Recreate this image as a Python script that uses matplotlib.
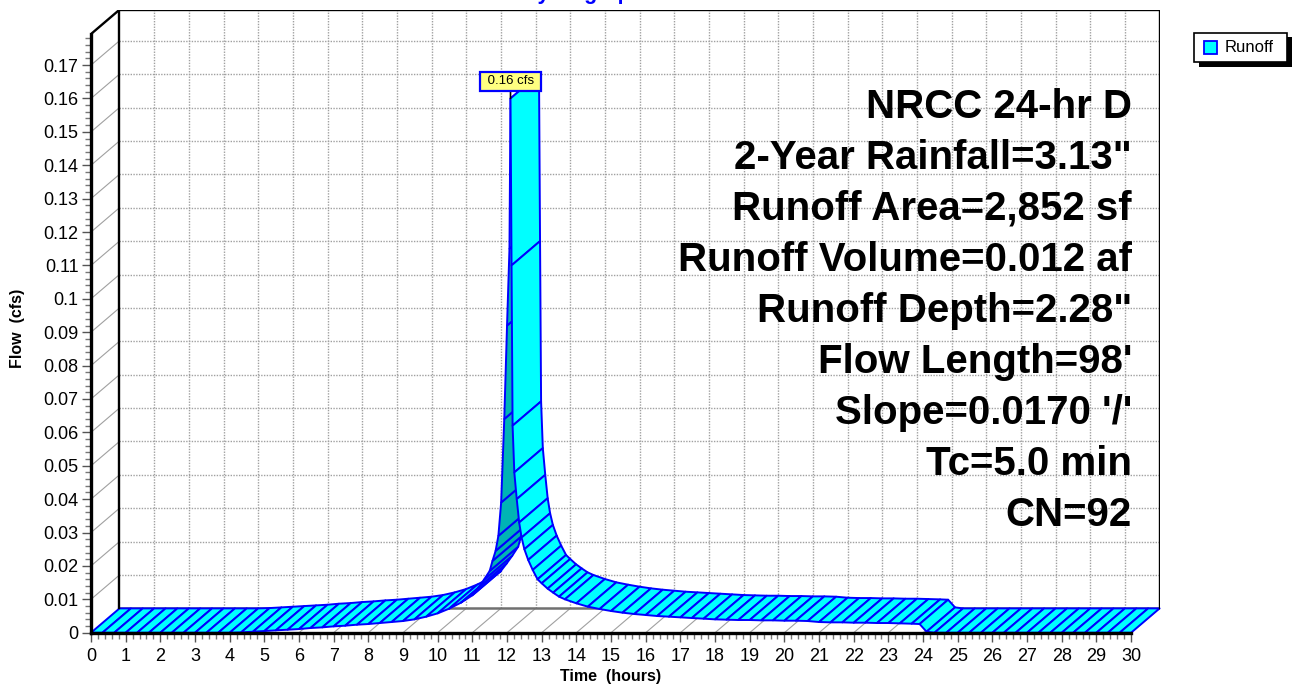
import matplotlib
matplotlib.use('Agg')
import matplotlib.pyplot as plt
from matplotlib.patches import Polygon, Rectangle

plt.rcParams['font.family'] = ['Liberation Sans', 'DejaVu Sans']

# ---------------- data ----------------
times = [0.00, 0.33, 0.67, 1.00, 1.33, 1.67, 2.00, 2.33, 2.67, 3.00, 3.33, 3.67,
         4.00, 4.33, 4.67, 5.00, 5.33, 5.67, 6.00, 6.33, 6.67, 7.00, 7.33, 7.67,
         8.00, 8.33, 8.67, 9.00, 9.33, 9.67, 10.00, 10.33, 10.67, 11.00, 11.17,
         11.33, 11.50, 11.58, 11.67, 11.75, 11.83, 11.92, 12.00, 12.07, 12.10,
         12.13, 12.16, 12.21, 12.28, 12.35, 12.42, 12.50, 12.61, 12.74, 12.88,
         13.00, 13.17, 13.33, 13.50, 13.67, 14.00, 14.33, 14.67, 15.00, 15.33,
         15.67, 16.00, 16.33, 16.67, 17.00, 17.33, 17.67, 18.00, 18.33, 18.67,
         19.00, 19.33, 19.67, 20.00, 20.33, 20.67, 21.00, 21.33, 21.67, 22.00,
         22.33, 22.67, 23.00, 23.33, 23.67, 23.90, 24.10, 24.33, 24.67, 25.00,
         25.33, 25.67, 26.00, 26.33, 26.67, 27.00, 27.33, 27.67, 28.00, 28.33,
         28.67, 29.00, 29.33, 29.67, 30.00]
flows = [0, 0, 0, 0, 0, 0, 0, 0, 0, 0, 0, 0,
         0, 0.0001, 0.0003, 0.0005, 0.0007, 0.0009, 0.0011, 0.0014, 0.0016, 0.0019, 0.0021, 0.0024,
         0.0026, 0.0029, 0.0032, 0.0035, 0.0040, 0.0048, 0.0058, 0.0072, 0.0090, 0.0112, 0.0135,
         0.0158, 0.0185, 0.0215, 0.0245, 0.0290, 0.0390, 0.0640, 0.0920, 0.1150, 0.1600,
         0.1100, 0.0620, 0.0480, 0.0400, 0.0330, 0.0285, 0.0250, 0.0218, 0.0188, 0.0160,
         0.0148, 0.0132, 0.0120, 0.0108, 0.0100, 0.0088, 0.0078, 0.0071, 0.0065, 0.0060,
         0.0056, 0.0053, 0.0050, 0.0048, 0.0046, 0.0044, 0.0042, 0.0040, 0.0039, 0.0038,
         0.0038, 0.0037, 0.0037, 0.0036, 0.0036, 0.0035, 0.0032, 0.0031, 0.0031, 0.0030,
         0.0030, 0.0029, 0.0029, 0.0028, 0.0027, 0.0026, 0.0003, 0, 0, 0,
         0, 0, 0, 0, 0, 0, 0, 0, 0, 0,
         0, 0, 0, 0, 0]
peak_time = 12.10
peak_flow = 0.16
peak_label = '0.16 cfs'

x_ticks = list(range(0, 31))
y_ticks = [0.00, 0.01, 0.02, 0.03, 0.04, 0.05, 0.06, 0.07, 0.08, 0.09, 0.10,
           0.11, 0.12, 0.13, 0.14, 0.15, 0.16, 0.17]
y_tick_labels = ['0', '0.01', '0.02', '0.03', '0.04', '0.05', '0.06', '0.07', '0.08',
                 '0.09', '0.1', '0.11', '0.12', '0.13', '0.14', '0.15', '0.16', '0.17']
info_lines = ['NRCC 24-hr D', '2-Year Rainfall=3.13"', 'Runoff Area=2,852 sf',
              'Runoff Volume=0.012 af', 'Runoff Depth=2.28"', "Flow Length=98'",
              "Slope=0.0170 '/'", 'Tc=5.0 min', 'CN=92']
series_name = 'Runoff'
title = 'Hydrograph'
x_label = 'Time  (hours)'
y_label = 'Flow  (cfs)'

# ---------------- layout / style ----------------
W, H = 1294, 688
X0_PX, PX_PER_HR = 91.0, 34.67
Y0_PX, PX_PER_CFS = 632.7, 3339.0
DEPTH_X_PX, DEPTH_Y_PX = 28.5, 24.3
XMAX, YTOP = 30.0, 0.1793
DX = DEPTH_X_PX / PX_PER_HR
DY = DEPTH_Y_PX / PX_PER_CFS

CYAN = '#00FFFF'
DARK = '#00B4B4'
BLUE = '#0000FF'
GRID = '#A0A0A0'

fig = plt.figure(figsize=(W / 100, H / 100), dpi=100)
ax = fig.add_axes([X0_PX / W, (H - Y0_PX) / H,
                   (XMAX + DX) * PX_PER_HR / W, (YTOP + DY) * PX_PER_CFS / H])
ax.set_xlim(0, XMAX + DX)
ax.set_ylim(0, YTOP + DY)
ax.patch.set_visible(False)

# back wall grid
for k in x_ticks[1:-1]:
    ax.plot([k + DX, k + DX], [DY, YTOP + DY], ls=(0, (1, 1)), color=GRID, lw=1.0, zorder=1)
for v in y_ticks[1:]:
    ax.plot([DX, XMAX + DX], [v + DY, v + DY], ls=(0, (1, 1)), color=GRID, lw=1.0, zorder=1)
    # side wall diagonals
    ax.plot([0, DX], [v, v + DY], color=GRID, lw=0.8, zorder=1)
# floor diagonals
for k in x_ticks[1:]:
    ax.plot([k, k + DX], [0, DY], color=GRID, lw=0.8, zorder=1)
# back floor line
ax.plot([DX, XMAX + DX], [DY, DY], color='#707070', lw=1.8, zorder=1.5)
# back wall frame
ax.plot([DX, DX, XMAX + DX, XMAX + DX], [DY, YTOP + DY, YTOP + DY, DY],
        color='black', lw=1.7, zorder=4, solid_joinstyle='miter')
ax.plot([0, DX], [YTOP, YTOP + DY], color='black', lw=1.7, zorder=4)

# ribbon
for i in range(len(times) - 1):
    t0, t1 = times[i], times[i + 1]
    q0, q1 = flows[i], flows[i + 1]
    sx = (t1 - t0) * PX_PER_HR
    sy = (q1 - q0) * PX_PER_CFS
    cross = sx * DEPTH_Y_PX - sy * DEPTH_X_PX
    fc = CYAN if cross >= 0 else DARK
    quad = Polygon([(t0, q0), (t1, q1), (t1 + DX, q1 + DY), (t0 + DX, q0 + DY)],
                   closed=True, facecolor=fc, edgecolor=BLUE, lw=1.4,
                   joinstyle='round', zorder=3, clip_on=False)
    ax.add_patch(quad)

# spines / ticks
for s in ('top', 'right'):
    ax.spines[s].set_visible(False)
ax.spines['left'].set_bounds(0, YTOP)
ax.spines['bottom'].set_bounds(0, XMAX)
for s in ('left', 'bottom'):
    ax.spines[s].set_linewidth(2.4)
    ax.spines[s].set_zorder(4)

ax.set_xticks(x_ticks)
ax.set_xticklabels([str(v) for v in x_ticks])
ax.set_xticks([k / 5 for k in range(0, 151)], minor=True)
ax.set_yticks(y_ticks)
ax.set_yticklabels(y_tick_labels)
ax.set_yticks([k / 500 for k in range(0, 90)], minor=True)
ax.tick_params(axis='both', which='major', labelsize=13, color='#555555', width=1.0)
ax.tick_params(axis='x', which='major', length=6.5, pad=4.5)
ax.tick_params(axis='y', which='major', length=6.5, pad=2.5)
ax.tick_params(axis='both', which='minor', length=4, color='#777777', width=1.0)

# peak label
ax.annotate(' ' + peak_label + ' ', xy=(peak_time, peak_flow), xytext=(0, 8),
            textcoords='offset points', ha='center', va='bottom', fontsize=9.5,
            bbox=dict(boxstyle='square,pad=0.25', fc='#FFFF80', ec=BLUE, lw=1.6),
            arrowprops=dict(arrowstyle='-', color='black', lw=1.2, shrinkA=0, shrinkB=0),
            zorder=6, annotation_clip=False)

# axis labels
fig.text(18 / W, 1 - 328 / H, y_label, rotation=90, ha='center', va='center',
         fontsize=11.5, fontweight='bold')
fig.text(611 / W, 1 - 676 / H, x_label, ha='center', va='center',
         fontsize=11.5, fontweight='bold')

# title (clipped at top like reference)
fig.text(584 / W, 1 + 1 / H, title, ha='center', va='baseline', fontsize=15.5,
         fontweight='bold', color=BLUE)

# info text block
for i, line in enumerate(info_lines):
    fig.text(1132 / W, 1 - (118 + 51 * i) / H, line, ha='right', va='baseline',
             fontsize=29, fontweight='bold', color='black', zorder=7)

# legend
def fx(px):
    return px / W

def fy(py):
    return 1 - py / H

fig.patches.append(Rectangle((fx(1199), fy(67)), 93 / W, 30 / H, transform=fig.transFigure,
                             facecolor='black', edgecolor='none', zorder=5))
fig.patches.append(Rectangle((fx(1194), fy(62)), 93 / W, 29 / H, transform=fig.transFigure,
                             facecolor='white', edgecolor='black', lw=1.2, zorder=6))
fig.patches.append(Rectangle((fx(1204), fy(54)), 13 / W, 13 / H, transform=fig.transFigure,
                             facecolor=CYAN, edgecolor=BLUE, lw=1.3, zorder=7))
fig.text(fx(1225), fy(47.5), series_name, ha='left', va='center', fontsize=12, zorder=8)

fig.savefig('out.png', dpi=100)
